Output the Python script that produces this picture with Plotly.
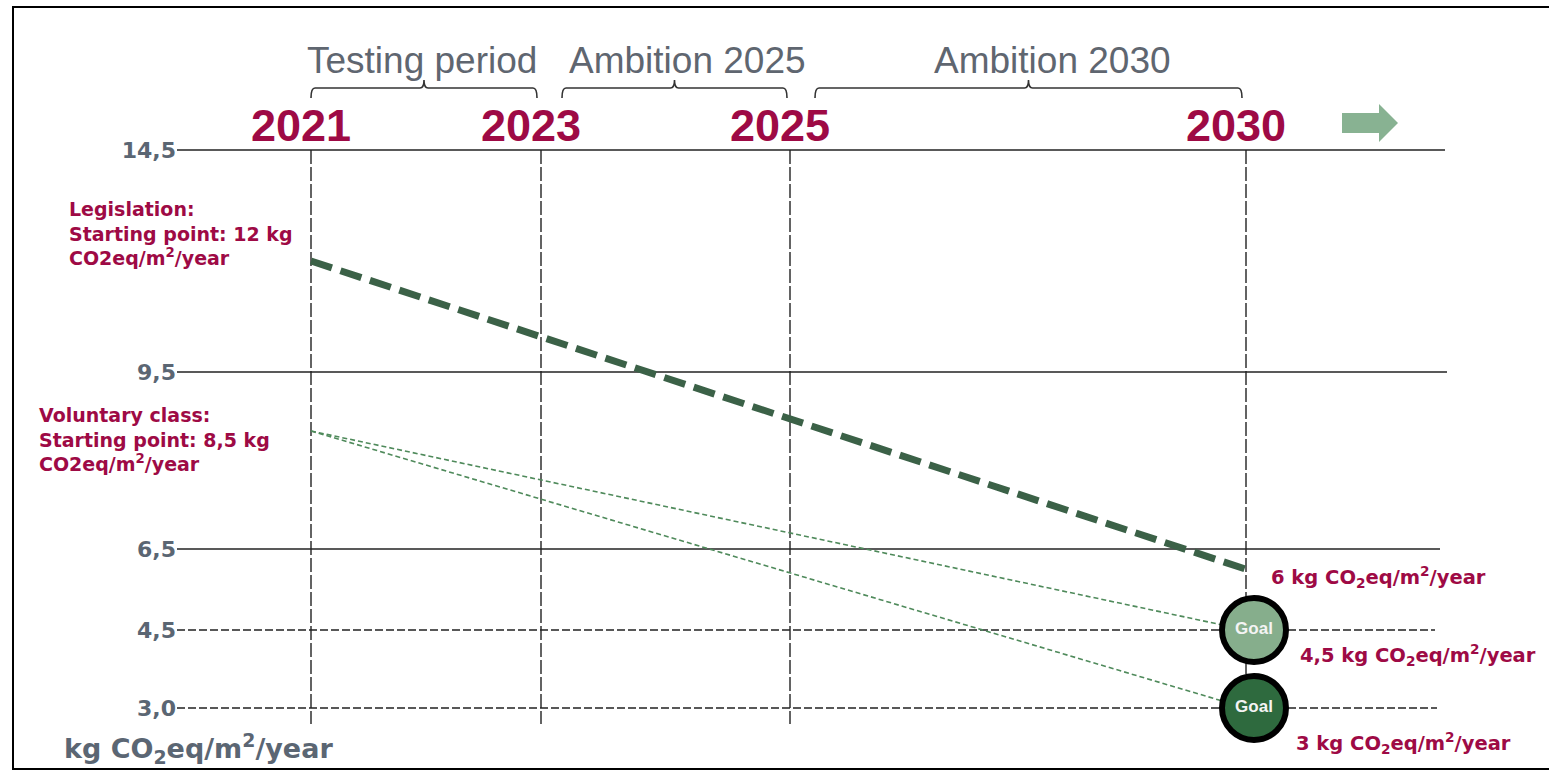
import numpy as np
import plotly.graph_objects as go

# ---------------- data ----------------
YEARS = [2021, 2023, 2025, 2030]
YEAR_LABELS = ["2021", "2023", "2025", "2030"]
Y_TICK_VALUES = [3.0, 4.5, 6.5, 9.5, 14.5]
Y_TICK_TEXT = ["3,0", "4,5", "6,5", "9,5", "14,5"]

PERIOD_NAMES = ["Testing period", "Ambition 2025", "Ambition 2030"]
PERIOD_START = [2021, 2023, 2025]
PERIOD_END = [2023, 2025, 2030]

LEGISLATION_YEARS = [2021, 2030]
LEGISLATION_VALUES = [12.0, 6.0]
VOLUNTARY_A_YEARS = [2021, 2030]
VOLUNTARY_A_VALUES = [8.5, 4.5]
VOLUNTARY_B_YEARS = [2021, 2030]
VOLUNTARY_B_VALUES = [8.5, 3.0]
GOAL_YEARS = [2030, 2030]
GOAL_VALUES = [4.5, 3.0]
GOAL_TEXT = ["Goal", "Goal"]

END_LABELS = ["6 kg CO<sub>2</sub>eq/m<sup>2</sup>/year",
              "4,5 kg CO<sub>2</sub>eq/m<sup>2</sup>/year",
              "3 kg CO<sub>2</sub>eq/m<sup>2</sup>/year"]

# ---------------- layout (diagram scale, pixels) ----------------
W, H = 1549, 771
YEAR_SLOT = [311, 541, 790, 1246]          # horizontal slot of each year
TICK_ROW = [708, 630, 549, 372, 150]        # row (from top) of each level line


def X(year):
    return np.interp(year, YEARS, YEAR_SLOT)


def Y(v):
    return H - np.interp(v, Y_TICK_VALUES, TICK_ROW)


CRIMSON = "#9e0a45"
GREY = "#5b6673"
HEAD = "#5f6670"
DARK = "#3b6147"
THIN = "#4f8a5b"
FONT = "Liberation Sans, Arial, sans-serif"
WIDE = "DejaVu Sans, sans-serif"

fig = go.Figure()

# trajectories
fig.add_trace(go.Scatter(x=X(LEGISLATION_YEARS), y=Y(LEGISLATION_VALUES), mode="lines",
                         line=dict(color=DARK, width=7, dash="22px,9px"), hoverinfo="skip"))
fig.add_trace(go.Scatter(x=X(VOLUNTARY_A_YEARS), y=Y(VOLUNTARY_A_VALUES), mode="lines",
                         line=dict(color=THIN, width=1.6, dash="5px,3px"), hoverinfo="skip"))
fig.add_trace(go.Scatter(x=X(VOLUNTARY_B_YEARS), y=Y(VOLUNTARY_B_VALUES), mode="lines",
                         line=dict(color=THIN, width=1.6, dash="5px,3px"), hoverinfo="skip"))
# goals
fig.add_trace(go.Scatter(x=X(GOAL_YEARS) + 8, y=Y(GOAL_VALUES), mode="markers+text",
                         text=GOAL_TEXT, textposition="middle center",
                         textfont=dict(family=FONT, size=17, color="#f4f4f4", weight="bold"),
                         marker=dict(size=64, color=["#86ae8c", "#2e6a3e"],
                                     line=dict(color="black", width=6)),
                         cliponaxis=False, hoverinfo="skip"))

shapes = []
# level lines
grid_end = {14.5: 1445, 9.5: 1447, 6.5: 1440, 4.5: 1435, 3.0: 1437}
for v in Y_TICK_VALUES:
    dashed = v < 6
    shapes.append(dict(type="line", xref="x", yref="y", x0=177, x1=grid_end[v],
                       y0=Y(v), y1=Y(v), layer="below",
                       line=dict(color="#222222", width=1.5 if not dashed else 1.4,
                                 dash="8px,3px" if dashed else "solid")))
# year lines
for yr in YEARS:
    shapes.append(dict(type="line", xref="x", yref="y", x0=X(yr), x1=X(yr),
                       y0=Y(14.5), y1=H - 724, layer="below",
                       line=dict(color="#222222", width=1.4, dash="14px,3px")))
# brackets over the periods
br_off = [(0, -4), (21, -3), (25, -4)]
for (a, b), (o0, o1) in zip(zip(PERIOD_START, PERIOD_END), br_off):
    x0, x1 = X(a) + o0, X(b) + o1
    m = (x0 + x1) / 2
    yb, yh, yt = H - 98, H - 88, H - 80
    path = (f"M {x0},{yb} Q {x0},{yh} {x0+4},{yh} L {m-4},{yh} Q {m},{yh} {m},{yt} "
            f"Q {m},{yh} {m+4},{yh} L {x1-4},{yh} Q {x1},{yh} {x1},{yb}")
    shapes.append(dict(type="path", xref="x", yref="y", path=path,
                       line=dict(color="#333333", width=1.6)))
# arrow to the right of 2030
ax0, ay = 1342, H - 123
arrow = (f"M {ax0},{ay+10} L {ax0+37},{ay+10} L {ax0+37},{ay+19} L {ax0+56},{ay} "
         f"L {ax0+37},{ay-19} L {ax0+37},{ay-10} L {ax0},{ay-10} Z")
shapes.append(dict(type="path", xref="x", yref="y", path=arrow,
                   fillcolor="#88b292", line=dict(width=0)))
# frame
shapes.append(dict(type="rect", xref="x", yref="y", x0=13, x1=W + 20, y0=H - 769, y1=H - 7,
                   line=dict(color="black", width=2)))

annotations = []
# period headers
head_center = [422, 687, 1052]
for name, cx in zip(PERIOD_NAMES, head_center):
    annotations.append(dict(x=cx, y=H - 60, xref="x", yref="y", text=name, showarrow=False,
                            font=dict(family=FONT, size=37, color=HEAD)))
# start labels
annotations.append(dict(x=67, y=H - 233, xref="x", yref="y", xanchor="left", align="left",
                        showarrow=False,
                        text="Legislation:<br>Starting point: 12 kg<br>CO2eq/m<sup>2</sup>/year",
                        font=dict(family=WIDE, size=19, color=CRIMSON, weight="bold")))
annotations.append(dict(x=37, y=H - 439, xref="x", yref="y", xanchor="left", align="left",
                        showarrow=False,
                        text="Voluntary class:<br>Starting point: 8,5 kg<br>CO2eq/m<sup>2</sup>/year",
                        font=dict(family=WIDE, size=19, color=CRIMSON, weight="bold")))
# end labels
end_pos = [(1269, 577), (1298, 655), (1294, 743)]
for txt, (lx, ly) in zip(END_LABELS, end_pos):
    annotations.append(dict(x=lx, y=H - ly, xref="x", yref="y", xanchor="left", showarrow=False,
                            text=txt, font=dict(family=WIDE, size=19.5, color=CRIMSON,
                                                weight="bold")))
# unit label
annotations.append(dict(x=62, y=H - 748, xref="x", yref="y", xanchor="left", showarrow=False,
                        text="kg CO<sub>2</sub>eq/m<sup>2</sup>/year",
                        font=dict(family=WIDE, size=27, color=GREY, weight="bold")))

fig.update_layout(
    width=W, height=H, margin=dict(l=0, r=0, t=0, b=0, pad=0),
    paper_bgcolor="white", plot_bgcolor="white", showlegend=False,
    shapes=shapes, annotations=annotations,
    xaxis=dict(range=[0, W], domain=[0, 1], side="top", anchor="free",
               position=Y(14.5) / H, tickvals=X(YEARS), ticktext=YEAR_LABELS,
               ticklabelshift=-10,
               tickfont=dict(family=FONT, size=45, color=CRIMSON, weight="bold"),
               showgrid=False, zeroline=False, showline=False, ticks="",
               fixedrange=True),
    yaxis=dict(range=[0, H], domain=[0, 1], anchor="free", position=176 / W,
               tickvals=Y(Y_TICK_VALUES), ticktext=Y_TICK_TEXT,
               tickfont=dict(family=WIDE, size=22, color=GREY, weight="bold"),
               showgrid=False, zeroline=False, showline=False, ticks="",
               fixedrange=True),
)

fig.write_html("out.html", config={"displayModeBar": False},
               post_script="document.body.style.margin='0';document.body.style.overflow='hidden';")
